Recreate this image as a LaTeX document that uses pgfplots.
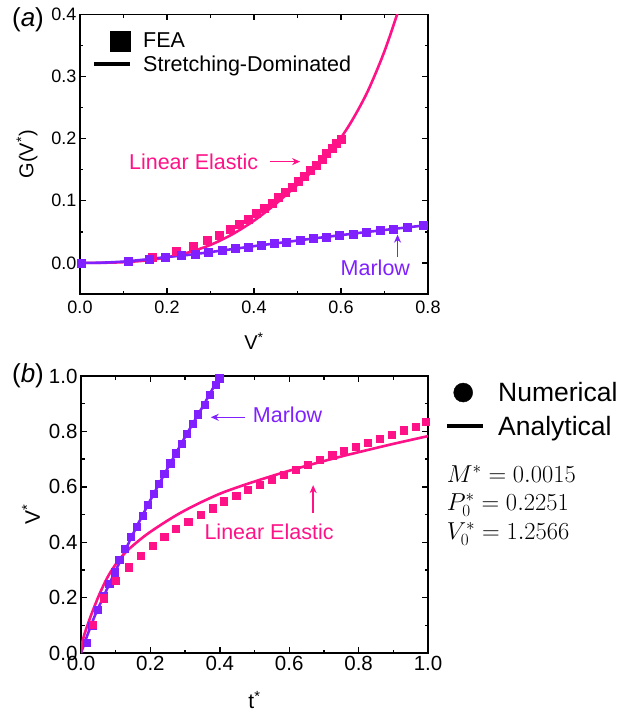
\RequirePackage{fix-cm}
\documentclass[border=0pt]{standalone}
\usepackage{pgfplots}
\pgfplotsset{compat=1.18}
\usepackage{fontspec}
\setmainfont{Liberation Sans}
\usetikzlibrary{arrows.meta}
\definecolor{cpink}{RGB}{255,18,135}
\definecolor{cpurp}{RGB}{128,32,255}
\newcommand{\ann}{\fontsize{21.5}{24}\selectfont}
\begin{document}
\begin{tikzpicture}
\useasboundingbox (0pt,0pt) rectangle (632pt,-715pt);
\pgfplotsset{
  myaxis/.style={
    scale only axis,
    axis line style={line width=1.6pt},
    every tick/.style={line width=1.4pt, black},
    major tick length=6pt, minor tick length=3.5pt,
    tick align=inside,
    /pgf/number format/assume math mode=true,
    /pgf/number format/fixed,
    /pgf/number format/fixed zerofill,
    /pgf/number format/precision=1,
    legend cell align=left,
  }
}
% ---------------- (a) ----------------
\begin{axis}[myaxis, at={(80pt,-294pt)}, anchor=south west, width=348pt, height=279.7pt,
  xmin=0, xmax=0.8, ymin=-0.05, ymax=0.4,
  xtick={0,0.2,0.4,0.6,0.8}, ytick={0,0.1,0.2,0.3,0.4},
  minor x tick num=1, minor y tick num=1,
  tick label style={font=\fontsize{18}{18}\selectfont},
  xticklabel style={yshift=-3pt},
  every axis y label/.style={at={(axis description cs:0,0.5)}, xshift=-53pt, rotate=90, anchor=center, font=\fontsize{20}{20}\selectfont},
  every axis x label/.style={at={(axis description cs:0.5,0)}, anchor=center, yshift=-47pt, font=\fontsize{20}{20}\selectfont},
  xlabel={V\textsuperscript{*}}, ylabel={G(V\textsuperscript{*})},
  legend style={at={(rel axis cs:0,1)}, anchor=north west, xshift=9pt, yshift=-14pt,
    draw=none, fill=none, font=\ann, column sep=9pt, row sep=3pt},
]
\addlegendimage{legend image code/.code={\path[draw=none] (0pt,0pt) -- (36pt,0pt); \fill[black] (16pt,-10pt) rectangle (36pt,10pt);}}
\addlegendentry{FEA}
\addlegendimage{legend image code/.code={\draw[black, line width=4pt] (0pt,0pt) -- (36pt,0pt);}}
\addlegendentry{Stretching-Dominated}

\addplot[cpink, line width=2.6pt, smooth, forget plot] coordinates {
(0,0) (0.05,0.0002) (0.1,0.0012) (0.15,0.0038) (0.2,0.009) (0.25,0.017) (0.3,0.029)
(0.35,0.046) (0.4,0.068) (0.45,0.095) (0.5,0.126) (0.545,0.155) (0.583,0.185)
(0.621,0.224) (0.66,0.274) (0.698,0.337) (0.729,0.40) (0.74,0.43)};
\addplot[only marks, mark=square*, mark size=4pt, cpink, forget plot] coordinates {
(0.167,0.0096) (0.222,0.0187) (0.261,0.0268) (0.293,0.0364) (0.321,0.045) (0.345,0.0535)
(0.367,0.062) (0.387,0.071) (0.406,0.080) (0.424,0.088) (0.441,0.096) (0.456,0.105)
(0.472,0.1135) (0.487,0.122) (0.501,0.131) (0.515,0.140) (0.529,0.149) (0.543,0.158)
(0.556,0.167) (0.567,0.176) (0.580,0.184) (0.590,0.192) (0.600,0.199)};
\addplot[cpurp, line width=2.6pt, smooth, forget plot] coordinates {
(0,0) (0.05,0.0004) (0.1,0.0022) (0.15,0.0055) (0.2,0.0095) (0.25,0.013) (0.3,0.0175)
(0.35,0.0222) (0.4,0.027) (0.45,0.0315) (0.5,0.036) (0.55,0.0405) (0.6,0.0447)
(0.65,0.049) (0.7,0.053) (0.75,0.057) (0.8,0.061)};
\addplot[only marks, mark=square*, mark size=4pt, cpurp, forget plot] coordinates {
(0.002,0) (0.110,0.0027) (0.159,0.0064) (0.197,0.0091) (0.232,0.0118) (0.265,0.0139)
(0.295,0.0171) (0.326,0.0203) (0.357,0.023) (0.387,0.0257) (0.416,0.0284) (0.446,0.031)
(0.475,0.0337) (0.506,0.0364) (0.537,0.0396) (0.566,0.0418) (0.597,0.0444) (0.627,0.047)
(0.658,0.050) (0.689,0.0525) (0.721,0.055) (0.752,0.057) (0.788,0.0605)};

\node[anchor=east, inner sep=0pt, text=cpink, font=\ann] at (axis cs:0.41,0.163) {Linear Elastic};
\draw[cpink, line width=1.4pt, -{Stealth[length=8pt,width=7pt]}] (axis cs:0.437,0.163) -- (axis cs:0.506,0.163);
\node[inner sep=0pt, text=cpurp, font=\ann] at (axis cs:0.679,-0.008) {Marlow};
\draw[cpurp, line width=1.4pt, -{Stealth[length=8pt,width=7pt]}] (axis cs:0.730,0.0096) -- (axis cs:0.730,0.0455);
\end{axis}

% ---------------- (b) ----------------
\begin{axis}[myaxis, at={(81pt,-653pt)}, anchor=south west, width=347pt, height=277pt,
  xmin=0, xmax=1, ymin=0, ymax=1,
  xtick={0,0.2,0.4,0.6,0.8,1}, ytick={0,0.2,0.4,0.6,0.8,1},
  minor x tick num=1, minor y tick num=1,
  tick label style={font=\fontsize{20.5}{20.5}\selectfont},
  every axis y label/.style={at={(axis description cs:0,0.5)}, xshift=-50pt, rotate=90, anchor=center, font=\fontsize{21}{21}\selectfont},
  every axis x label/.style={at={(axis description cs:0.5,0)}, anchor=center, yshift=-47pt, font=\fontsize{21}{21}\selectfont},
  xlabel={t\textsuperscript{*}}, ylabel={V\textsuperscript{*}},
  legend style={at={(rel axis cs:1,1)}, anchor=north west, xshift=14pt, yshift=-2pt,
    draw=none, fill=none, font=\fontsize{26.5}{28}\selectfont, column sep=11pt, row sep=9pt},
]
\addlegendimage{legend image code/.code={\path[draw=none] (0pt,0pt) -- (36pt,0pt); \fill[black] (16pt,0pt) circle (9.5pt);}}
\addlegendentry{Numerical}
\addlegendimage{legend image code/.code={\draw[black, line width=4pt] (0pt,0pt) -- (36pt,0pt);}}
\addlegendentry{Analytical}

\addplot[cpurp, line width=2.6pt, smooth, forget plot] coordinates {
(0,0) (0.01,0.035) (0.02,0.07) (0.04,0.135) (0.06,0.19) (0.08,0.245) (0.1,0.298)
(0.12,0.35) (0.15,0.43) (0.2,0.552) (0.25,0.668) (0.3,0.78) (0.35,0.888) (0.4,1.0) (0.405,1.01)};
\addplot[only marks, mark=square*, mark size=3.6pt, cpurp, forget plot] coordinates {
(0.016,0.038) (0.032,0.10) (0.048,0.155) (0.065,0.205) (0.081,0.251) (0.096,0.292)
(0.110,0.338) (0.127,0.377) (0.144,0.419) (0.161,0.457) (0.177,0.496) (0.192,0.535)
(0.209,0.574) (0.225,0.611) (0.240,0.647) (0.257,0.685) (0.273,0.721) (0.290,0.757)
(0.305,0.793) (0.321,0.829) (0.337,0.862) (0.356,0.896) (0.372,0.932) (0.389,0.968) (0.398,0.992)};
\addplot[cpink, line width=2.6pt, smooth, forget plot] coordinates {
(0,0) (0.004,0.04) (0.0115,0.074) (0.02,0.105) (0.031,0.143) (0.05,0.203) (0.07,0.258)
(0.088,0.298) (0.11,0.337) (0.137,0.374) (0.185,0.424) (0.233,0.465) (0.281,0.502)
(0.334,0.537) (0.4,0.575) (0.45,0.598) (0.5,0.619) (0.55,0.639) (0.6,0.658) (0.65,0.676)
(0.7,0.693) (0.75,0.7095) (0.8,0.725) (0.9,0.755) (1.0,0.783)};
\addplot[only marks, mark=square*, mark size=3.6pt, cpink, forget plot] coordinates {
(0.033,0.101) (0.065,0.198) (0.101,0.261) (0.137,0.310) (0.171,0.351) (0.207,0.386)
(0.240,0.420) (0.274,0.448) (0.309,0.474) (0.344,0.499) (0.379,0.523) (0.412,0.548)
(0.447,0.569) (0.481,0.590) (0.515,0.608) (0.549,0.626) (0.583,0.645) (0.618,0.663)
(0.653,0.681) (0.688,0.698) (0.724,0.714) (0.757,0.729) (0.791,0.744) (0.826,0.759)
(0.861,0.774) (0.896,0.789) (0.930,0.804) (0.965,0.818) (0.994,0.834)};

\node[anchor=west, inner sep=0pt, text=cpurp, font=\ann] at (axis cs:0.495,0.86) {Marlow};
\draw[cpurp, line width=1.4pt, -{Stealth[length=8pt,width=7pt]}] (axis cs:0.472,0.851) -- (axis cs:0.374,0.851);
\node[inner sep=0pt, text=cpink, font=\ann] at (axis cs:0.542,0.436) {Linear Elastic};
\draw[cpink, line width=1.4pt, -{Stealth[length=8pt,width=7pt]}] (axis cs:0.669,0.505) -- (axis cs:0.669,0.606);
\end{axis}

\node[font=\fontsize{26}{26}\selectfont] at (28pt,-20pt) {(\textit{a})};
\node[font=\fontsize{26}{26}\selectfont] at (28pt,-376pt) {(\textit{b})};
\node[anchor=base west, inner sep=0pt, font=\fontsize{24.5}{24.5}\selectfont] at (446.7pt,-482.7pt) {$M^* = 0.0015$};
\node[anchor=base west, inner sep=0pt, font=\fontsize{24.5}{24.5}\selectfont] at (446.7pt,-510.7pt) {$P_0^* = 0.2251$};
\node[anchor=base west, inner sep=0pt, font=\fontsize{24.5}{24.5}\selectfont] at (446.7pt,-539pt) {$V_0^* = 1.2566$};
\end{tikzpicture}
\end{document}
